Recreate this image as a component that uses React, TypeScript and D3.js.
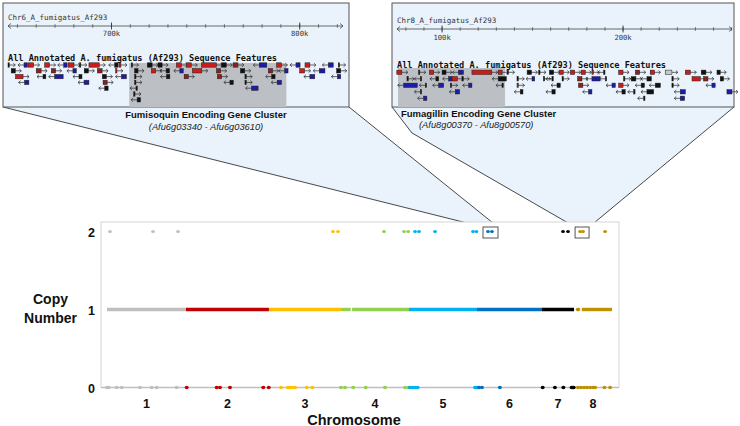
import React from 'react';
import * as d3 from 'd3';

// ---------------- main plot data ----------------
const chromosomes = ['1', '2', '3', '4', '5', '6', '7', '8'];
const chromLengths = [4.58, 4.81, 4.18, 3.94, 3.94, 3.77, 1.86, 2.2]; // Mb
const chromColors = ['#bfbfbf', '#c00000', '#ffc000', '#92d050', '#00b0f0', '#0070c0', '#000000', '#bf9000'];
const copyTicks = [0, 1, 2];

// copy number 1 stretches (Mb within chromosome)
const copyOneSegments: number[][][] = [
  [[0, 4.58]],
  [[0, 4.81]],
  [[0, 4.18]],
  [[0, 0.56], [0.64, 3.94]],
  [[0, 3.94]],
  [[0, 3.77]],
  [[0, 1.86]],
  [[0.2, 0.26], [0.45, 2.2]],
];
// copy number 2 genes
const copyTwoPositions: number[][] = [
  [0.17, 2.67, 4.12],
  [],
  [3.71, 4.0],
  [2.49, 3.65, 3.89],
  [0.35, 0.58, 1.51, 3.71, 3.91],
  [0.64, 0.87],
  [1.22, 1.51],
  [0.35, 0.52, 1.8],
];
// copy number 0 genes
const copyZeroPositions: number[][] = [
  [0.0, 0.1, 0.56, 0.85, 1.91, 2.59, 2.88, 4.04],
  [0.04, 1.78, 1.97, 2.55, 4.48, 4.8],
  [0.7, 1.1, 1.22, 1.33, 1.51, 2.19, 2.51],
  [0.0, 0.23, 0.71, 1.43, 2.55, 3.71, 3.9],
  [0.05, 0.2, 0.35, 0.5, 3.83, 3.94],
  [0.12, 0.29, 1.33],
  [0.04, 0.75, 1.24, 1.72, 1.78, 1.84],
  [0.23, 0.4, 0.58, 0.75, 0.93, 1.1, 1.22, 1.76, 2.09],
];
// highlighted clusters: chromosome index, start, end (Mb)
const highlightChrom = [5, 7];
const highlightStart = [0.35, 0.06];
const highlightEnd = [1.22, 0.87];

// ---------------- inset data ----------------
const insetNames = ['Chr6_A_fumigatus_Af293', 'Chr8_A_fumigatus_Af293'];
const insetDomains = [[645, 823], [75.1, 260.2]]; // kb
const insetMajorTicks = [[700, 800], [100, 200]];
const insetClusterRanges = [[709.4, 792.9], [75.65, 134.8]];
const insetTitle = 'All Annotated A. fumigatus (Af293) Sequence Features';
const clusterTitles = ['Fumisoquin Encoding Gene Cluster', 'Fumagillin Encoding Gene Cluster'];
const clusterGenes = ['(Afu6g03340 - Afu6g03610)', '(Afu8g00370 - Afu8g00570)'];

// feature: [start kb, width kb, row, strand, colour code]
type Feat = [number, number, number, number, string];
const fumisoquinFeatures: Feat[] = [
  [645, 0.6, 0, 1, 'k'], [653.5, 1.8, 0, -1, 'b'], [655.6, 3.0, 0, 1, 'r'], [664.5, 2.6, 0, 1, 'r'],
  [674.6, 1.8, 0, -1, 'b'], [676.9, 3.2, 0, 1, 'r'], [683, 0.6, 0, 1, 'k'], [688, 5.5, 0, 1, 'r'],
  [701.7, 1.8, 0, -1, 'k'], [704, 1.0, 0, 1, 'r'], [710.5, 0.6, 0, 1, 'k'], [719, 2.6, 0, 1, 'k'],
  [724.7, 2.2, 0, 1, 'k'], [734.5, 2.6, 0, 1, 'r'], [739.8, 2.6, 0, 1, 'r'], [747.8, 8, 0, 1, 'r'],
  [758.4, 2.6, 0, 1, 'k'], [764.6, 2.6, 0, 1, 'd'], [778.5, 4, 0, -1, 'b'], [787.7, 2.6, 0, 1, 'r'],
  [798, 2.2, 0, -1, 'b'], [802.8, 2.6, 0, 1, 'r'], [815.2, 2.6, 0, -1, 'b'], [820.5, 0.6, 0, 1, 'k'],
  [646.7, 2.2, 1, 1, 'k'], [660, 2.6, 1, 1, 'd'], [668, 2.3, 1, 1, 'd'], [679.5, 1.8, 1, -1, 'b'],
  [685.5, 2.2, 1, 1, 'k'], [692.5, 2.5, 1, 1, 'd'], [702.2, 0.6, 1, 1, 'r'], [712.3, 1.8, 1, 1, 'k'],
  [721.2, 2.3, 1, 1, 'r'], [729, 1.8, 1, -1, 'k'], [736.3, 1.8, 1, -1, 'b'], [743, 5, 1, 1, 'r'],
  [755.8, 2.2, 1, 1, 'd'], [768.5, 2.3, 1, 1, 'k'], [783.3, 2.3, 1, 1, 'd'], [792, 1.8, 1, -1, 'b'],
  [800, 2.6, 1, 1, 'r'], [810.4, 3, 1, -1, 'b'], [819.6, 2.2, 1, 1, 'k'],
  [649, 4, 2, 1, 'r'], [663.6, 1.5, 2, -1, 'k'], [669.8, 4.5, 2, -1, 'b'], [682.7, 1.6, 2, -1, 'k'],
  [695.1, 2.2, 2, 1, 'k'], [705.3, 2.6, 2, -1, 'b'], [712.3, 0.6, 2, 1, 'k'], [729.2, 1.8, 2, -1, 'k'],
  [738.6, 2.2, 2, 1, 'd'], [756.3, 2.2, 2, 1, 'd'], [770.9, 0.6, 2, 1, 'k'], [785.1, 1.8, 2, -1, 'k'],
  [805.4, 2.6, 2, -1, 'b'], [820, 1.8, 2, -1, 'b'],
  [653.8, 2.3, 3, -1, 'b'], [685.4, 2.6, 3, -1, 'b'], [695.5, 2.2, 3, 1, 'd'], [712.3, 0.6, 3, 1, 'k'],
  [762.9, 1.8, 3, -1, 'k'], [770.9, 0.6, 3, 1, 'k'], [788, 2.3, 3, -1, 'b'],
  [696.4, 1.8, 4, -1, 'k'], [713, 0.6, 4, -1, 'k'], [774.4, 3.5, 4, -1, 'b'],
  [711.8, 0.6, 5, 1, 'k'], [713.6, 1.8, 6, -1, 'k'],
];
const fumagillinFeatures: Feat[] = [
  [75, 2.8, 0, 1, 'r'], [87, 0.6, 0, 1, 'k'], [93, 2.4, 0, 1, 'r'], [100, 2.2, 0, 1, 'k'],
  [109, 2.8, 0, -1, 'b'], [116.5, 11, 0, 1, 'r'], [131, 2.2, 0, 1, 'r'], [136, 0.6, 0, 1, 'k'],
  [147, 2.4, 0, 1, 'k'], [153.4, 0.6, 0, 1, 'k'], [159.3, 2.4, 0, 1, 'k'], [164.8, 2.2, 0, 1, 'r'],
  [170.9, 2.4, 0, 1, 'r'], [176.8, 2.4, 0, 1, 'r'], [182.8, 0.8, 0, 1, 'r'], [189.3, 0.6, 0, -1, 'k'],
  [197.6, 2.4, 0, 1, 'r'], [206.8, 2.4, 0, 1, 'd'], [215, 2.4, 0, 1, 'r'], [223.3, 3.7, 0, 1, 'g'],
  [234.4, 2.8, 0, 1, 'r'], [243.2, 2.6, 0, 1, 'k'], [251.9, 1.8, 0, 1, 'k'],
  [80.6, 0.6, 1, 1, 'k'], [88, 0.6, 1, -1, 'k'], [96.6, 1.5, 1, -1, 'k'], [103.6, 1.8, 1, -1, 'b'],
  [105.5, 3, 1, 1, 'r'], [111, 0.6, 1, 1, 'k'], [131, 4.5, 1, -1, 'k'], [141.4, 0.6, 1, 1, 'k'],
  [149.7, 1.5, 1, -1, 'b'], [156, 0.6, 1, 1, 'k'], [160.7, 0.6, 1, -1, 'k'], [166.3, 0.6, 1, 1, 'k'],
  [174.9, 2.4, 1, 1, 'd'], [182.8, 4.5, 1, -1, 'b'], [190.2, 0.6, 1, -1, 'k'], [200.3, 0.6, 1, 1, 'k'],
  [204.5, 2.6, 1, 1, 'k'], [213.2, 2.4, 1, -1, 'k'], [227, 0.6, 1, 1, 'k'], [238.1, 4.6, 1, 1, 'r'],
  [244.5, 2.4, 1, 1, 'd'], [253.7, 1.8, 1, 1, 'k'],
  [78.8, 7.5, 2, -1, 'b'], [90.7, 0.6, 2, -1, 'k'], [98.1, 2.8, 2, -1, 'b'], [104.6, 0.6, 2, 1, 'k'],
  [114.7, 1.8, 2, -1, 'b'], [133.1, 0.6, 2, -1, 'k'], [141.4, 0.8, 2, 1, 'r'], [163.5, 1.8, 2, -1, 'k'],
  [175.4, 2.4, 2, 1, 'd'], [193.9, 1.8, 2, -1, 'b'], [197.6, 2.4, 2, 1, 'r'], [210, 1.8, 2, -1, 'k'],
  [217.8, 2.8, 2, -1, 'k'], [227, 0.6, 2, 1, 'k'], [249.1, 1.8, 2, -1, 'b'],
  [88, 0.6, 3, -1, 'k'], [107.3, 2.4, 3, -1, 'b'], [143.2, 1.5, 3, -1, 'k'], [160.7, 1.8, 3, -1, 'k'],
  [181, 1.8, 3, -1, 'b'], [199.4, 1.8, 3, -1, 'k'], [205.9, 0.6, 3, -1, 'k'], [213.2, 3.7, 3, -1, 'k'],
  [231.6, 2.8, 3, -1, 'b'], [257.4, 2.8, 3, 1, 'b'],
  [89.8, 1.8, 4, -1, 'b'], [211.4, 0.6, 4, -1, 'k'], [231.6, 2.4, 4, -1, 'b'],
];
const insetFeatures = [fumisoquinFeatures, fumagillinFeatures];

const featureColors: Record<string, string> = {
  r: '#cc1b1b', d: '#8e1f1f', b: '#1c1ca6', k: '#111111', g: '#c8c8c8',
};

// ---------------- layout ----------------
const W = 740;
const H = 426;
const plot = { left: 101, right: 619, top: 222, bottom: 387.5, xPadL: 6, xPadR: 7, y2: 231.5 };
const panels = [
  { x0: 3, x1: 349, y0: 3, y1: 107, rx0: 8, rx1: 343, nameY: 20, rulerY: 26, tickY: 36, titleY: 61, rowY0: 65, rowStep: 5.8, grayTop: 63 },
  { x0: 392, x1: 734, y0: 3, y1: 107, rx0: 397, rx1: 732, nameY: 23, rulerY: 29, tickY: 39.5, titleY: 68, rowY0: 72.3, rowStep: 6.5, grayTop: 68 },
];
const FILL = '#eaf3fb';
const SANS = '"Liberation Sans", Arial, Helvetica, sans-serif';
const MONO = '"DejaVu Sans Mono", "Liberation Mono", monospace';

function Inset({ idx }: { idx: number }) {
  const p = panels[idx];
  const x = d3.scaleLinear().domain(insetDomains[idx]).range([p.rx0, p.rx1]);
  const [d0, d1] = insetDomains[idx];
  const minor = d3.range(Math.ceil(d0 / 10) * 10, d1, 10);
  const cr = insetClusterRanges[idx];
  return (
    <g>
      <rect x={p.x0} y={p.y0} width={p.x1 - p.x0} height={p.y1 - p.y0} fill={FILL} stroke="#555" strokeWidth={1} />
      <text x={p.rx0} y={p.nameY} fontFamily={MONO} fontSize={7.5} fill="#333">{insetNames[idx]}</text>
      <line x1={p.rx0} x2={p.rx1} y1={p.rulerY} y2={p.rulerY} stroke="#444" strokeWidth={0.8} />
      <path d={`M${p.rx0 + 3},${p.rulerY - 2.5} L${p.rx0},${p.rulerY} L${p.rx0 + 3},${p.rulerY + 2.5}`} fill="none" stroke="#444" strokeWidth={0.8} />
      <path d={`M${p.rx1 - 3},${p.rulerY - 2.5} L${p.rx1},${p.rulerY} L${p.rx1 - 3},${p.rulerY + 2.5}`} fill="none" stroke="#444" strokeWidth={0.8} />
      {minor.map((t) => (
        <line key={t} x1={x(t)} x2={x(t)} y1={p.rulerY - 1.8} y2={p.rulerY + 1.8} stroke="#444" strokeWidth={0.7} />
      ))}
      {insetMajorTicks[idx].map((t) => (
        <g key={t}>
          <line x1={x(t)} x2={x(t)} y1={p.rulerY - 3.5} y2={p.rulerY + 3.5} stroke="#333" strokeWidth={0.9} />
          <text x={x(t)} y={p.tickY} textAnchor="middle" fontFamily={MONO} fontSize={7.2} fill="#333">{`${t}k`}</text>
        </g>
      ))}
      <rect x={x(cr[0])} y={p.grayTop} width={x(cr[1]) - x(cr[0])} height={p.y1 - p.grayTop} fill="#bcc0c4" />
      <text x={p.rx0} y={p.titleY} fontFamily={MONO} fontWeight="bold" fontSize={8.6} fill="#111">{insetTitle}</text>
      {insetFeatures[idx].map((f, i) => {
        const [s, w, row, strand, c] = f;
        const xa = x(s);
        const xb = Math.max(x(s + w), xa + 1.3);
        const y = p.rowY0 + row * p.rowStep;
        const h = 4.4;
        const al = 6;
        const lx1 = strand > 0 ? xa : xa - al;
        const lx2 = strand > 0 ? xb + al : xb;
        const tip = strand > 0 ? lx2 : lx1;
        const dir = strand > 0 ? -1 : 1;
        return (
          <g key={i}>
            <line x1={lx1} x2={lx2} y1={y} y2={y} stroke="#333" strokeWidth={0.75} />
            <path d={`M${tip + dir * 2},${y - 1.8} L${tip},${y} L${tip + dir * 2},${y + 1.8}`} fill="none" stroke="#333" strokeWidth={0.75} />
            <rect x={xa} y={y - h / 2} width={xb - xa} height={h} fill={featureColors[c]} stroke="#222" strokeWidth={0.5} />
          </g>
        );
      })}
    </g>
  );
}

export default function App() {
  const chromStarts = chromLengths.map((_, i) => d3.sum(chromLengths.slice(0, i)));
  const total = d3.sum(chromLengths);
  const x = d3.scaleLinear().domain([0, total]).range([plot.left + plot.xPadL, plot.right - plot.xPadR]);
  const y = d3.scaleLinear().domain([0, 2]).range([plot.bottom, plot.y2]);
  const gx = (c: number, pos: number) => x(chromStarts[c] + pos);

  const boxes = highlightChrom.map((c, i) => ({
    x0: gx(c, highlightStart[i]),
    x1: gx(c, highlightEnd[i]),
    y0: y(2) - 4.5,
    y1: y(2) + 6.5,
  }));
  const b1 = boxes[0];
  const b2 = boxes[1];
  const p1 = panels[0];
  const p2 = panels[1];
  const callout1 = [[p1.x0, p1.y1], [b1.x0, b1.y0], [b1.x1, b1.y0], [p1.x1, p1.y1]];
  const callout2 = [[p2.x0, p2.y1], [p2.x0 + 20, p2.y1 + 26], [b2.x0, b2.y0], [b2.x1, b2.y0], [p2.x1, p2.y1]];
  const poly = (pts: number[][]) => 'M' + pts.map((q) => q.join(',')).join('L') + 'Z';
  const lineGen = (pts: number[][]) => 'M' + pts.map((q) => q.join(',')).join('L');

  return (
    <svg width={W} height={H} style={{ position: 'absolute', left: 0, top: 0, background: '#fff' }}>
      {/* callouts */}
      <path d={poly(callout1)} fill={FILL} />
      <path d={poly(callout2)} fill={FILL} />
      <path d={lineGen([callout1[0], callout1[1]])} stroke="#333" strokeWidth={0.9} fill="none" />
      <path d={lineGen([callout1[2], callout1[3]])} stroke="#333" strokeWidth={0.9} fill="none" />
      <path d={lineGen([callout2[0], callout2[1], callout2[2]])} stroke="#333" strokeWidth={0.9} fill="none" />
      <path d={lineGen([callout2[3], callout2[4]])} stroke="#333" strokeWidth={0.9} fill="none" />

      <Inset idx={0} />
      <Inset idx={1} />

      <text x={(p1.x0 + p1.x1) / 2 + 30} y={118} textAnchor="middle" fontFamily={SANS} fontWeight="bold" fontSize={9.5} fill="#111">{clusterTitles[0]}</text>
      <text x={(p1.x0 + p1.x1) / 2 + 30} y={129.5} textAnchor="middle" fontFamily={SANS} fontStyle="italic" fontSize={9.3} fill="#222">{clusterGenes[0]}</text>
      <text x={p2.x0 + 9} y={117} fontFamily={SANS} fontWeight="bold" fontSize={9.5} fill="#111">{clusterTitles[1]}</text>
      <text x={p2.x0 + 27} y={128.3} fontFamily={SANS} fontStyle="italic" fontSize={9.3} fill="#222">{clusterGenes[1]}</text>

      {/* plot frame */}
      <rect x={plot.left} y={plot.top} width={plot.right - plot.left} height={plot.bottom - plot.top} fill="#fff" stroke="#d6d6d6" strokeWidth={1} />
      <line x1={plot.left} x2={plot.right} y1={y(0)} y2={y(0)} stroke="#bfbfbf" strokeWidth={1.5} />

      {/* copy 1 segments */}
      {copyOneSegments.map((segs, c) =>
        segs.map((s, j) => (
          <line key={`s${c}-${j}`} x1={gx(c, s[0])} x2={gx(c, s[1])} y1={y(1)} y2={y(1)} stroke={chromColors[c]} strokeWidth={3.4} strokeLinecap={s[1] - s[0] < 0.2 ? 'round' : 'butt'} />
        ))
      )}
      {/* copy 2 */}
      {copyTwoPositions.map((ps, c) =>
        ps.map((v, j) => <ellipse key={`t${c}-${j}`} cx={gx(c, v)} cy={y(2)} rx={1.9} ry={1.6} fill={chromColors[c]} />)
      )}
      {/* copy 0 */}
      {copyZeroPositions.map((ps, c) =>
        ps.map((v, j) => <ellipse key={`z${c}-${j}`} cx={gx(c, v)} cy={y(0)} rx={2} ry={1.7} fill={chromColors[c]} />)
      )}
      {/* highlight boxes */}
      {boxes.map((b, i) => (
        <rect key={i} x={b.x0} y={b.y0} width={b.x1 - b.x0} height={b.y1 - b.y0} fill="none" stroke="#555" strokeWidth={1} />
      ))}

      {/* y axis labels */}
      {copyTicks.map((t) => (
        <text key={t} x={95} y={y(t) + 5.3} textAnchor="end" fontFamily={SANS} fontWeight="bold" fontSize={12.5} fill="#111">{t}</text>
      ))}
      <text x={50.5} y={304} textAnchor="middle" fontFamily={SANS} fontWeight="bold" fontSize={14} fill="#111">Copy</text>
      <text x={50.5} y={323} textAnchor="middle" fontFamily={SANS} fontWeight="bold" fontSize={14} fill="#111">Number</text>

      {/* chromosome labels */}
      {chromosomes.map((c, i) => (
        <text key={c} x={x(chromStarts[i] + chromLengths[i] / 2)} y={407.5} textAnchor="middle" fontFamily={SANS} fontWeight="bold" fontSize={12.5} fill="#111">{c}</text>
      ))}
      <text x={354} y={424.5} textAnchor="middle" fontFamily={SANS} fontWeight="bold" fontSize={14.5} fill="#111">Chromosome</text>
    </svg>
  );
}
